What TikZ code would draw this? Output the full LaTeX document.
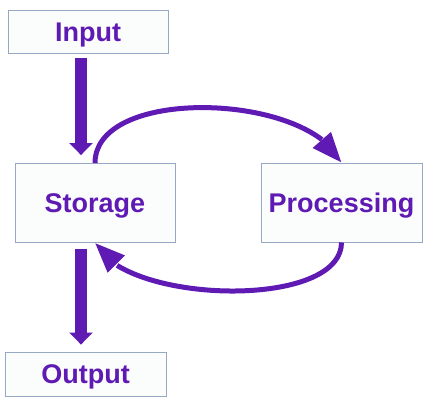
\documentclass[tikz,border=0pt]{standalone}
\usepackage{fontspec}
\setmainfont{Liberation Sans}
\usepackage{xcolor}
\usetikzlibrary{arrows.meta,bending}
\definecolor{flowpurple}{RGB}{94,26,178}
\definecolor{boxedge}{RGB}{150,168,195}
\definecolor{boxfill}{RGB}{251,253,253}
\tikzset{font={\fontsize{27pt}{30}\selectfont\bfseries}}

\begin{document}
\begin{tikzpicture}[x=1pt,y=-1pt,
unit box/.style={draw=boxedge,line width=0.9pt,fill=boxfill,text=flowpurple,inner sep=0pt,text height=19.5pt,text depth=0pt},
block arrow/.style={flowpurple,line width=12pt,-{Triangle[width=23pt,length=12pt]}},
loop arrow/.style={flowpurple,line width=5pt,-{Triangle[width=23pt,length=30pt,flex]}}
]
\useasboundingbox (0,0) rectangle (434,402);

\node[unit box,minimum width=160pt,minimum height=43pt] (input) at (88,31.5) {Input};
\node[unit box,minimum width=160pt,minimum height=79pt] (storage) at (95,203) {Storage};
\node[unit box,minimum width=161pt,minimum height=79pt] (processing) at (341.5,202.5) {Processing};
\node[unit box,minimum width=161pt,minimum height=44pt] (output) at (85.5,374) {Output};

\draw[block arrow] ([xshift=-7pt,yshift=-5pt]input.south) -- ([xshift=-14pt,yshift=8pt]storage.north);
\draw[block arrow] ([xshift=-14pt,yshift=-6pt]storage.south) -- ([xshift=-4.5pt,yshift=7pt]output.north);

% cycle between storage and processing
\draw[loop arrow] (storage.north) to[out=90,in=115,looseness=0.8] (processing.north);
\draw[loop arrow] (processing.south) to[out=-90,in=-65,looseness=0.7] (storage.south);

\end{tikzpicture}
\end{document}
